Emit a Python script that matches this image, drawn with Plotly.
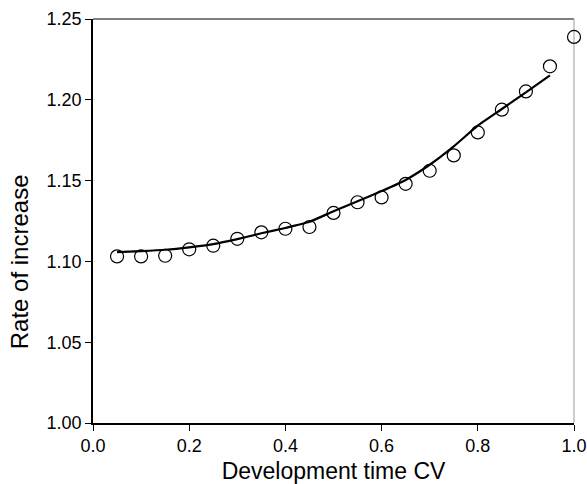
import plotly.graph_objects as go

cv = [0.05, 0.10, 0.15, 0.20, 0.25, 0.30, 0.35, 0.40, 0.45, 0.50,
      0.55, 0.60, 0.65, 0.70, 0.75, 0.80, 0.85, 0.90, 0.95, 1.00]
observed = [1.1031, 1.1031, 1.1035, 1.1075, 1.1097, 1.1140, 1.1180, 1.1202, 1.1213, 1.1300,
            1.1366, 1.1396, 1.1480, 1.1561, 1.1656, 1.1798, 1.1939, 1.2052, 1.2207, 1.2389]

cv_fit = [0.05, 0.10, 0.15, 0.20, 0.25, 0.30, 0.35, 0.40, 0.45, 0.50,
          0.55, 0.60, 0.65, 0.70, 0.75, 0.80, 0.85, 0.90, 0.95]
fitted = [1.1058, 1.1064, 1.1072, 1.1087, 1.1107, 1.1138, 1.1174, 1.1207, 1.1245, 1.1310,
          1.1372, 1.1435, 1.1504, 1.1598, 1.1712, 1.1840, 1.1943, 1.2046, 1.2151]

x_ticks = [0.0, 0.2, 0.4, 0.6, 0.8, 1.0]
x_labels = ["0.0", "0.2", "0.4", "0.6", "0.8", "1.0"]
y_ticks = [1.00, 1.05, 1.10, 1.15, 1.20, 1.25]
y_labels = ["1.00", "1.05", "1.10", "1.15", "1.20", "1.25"]

FONT = "Liberation Sans, Arial, Helvetica, sans-serif"

fig = go.Figure()
fig.add_trace(go.Scatter(
    x=cv_fit, y=fitted, mode="lines",
    line=dict(color="black", width=2.2, shape="spline", smoothing=0.5),
    hoverinfo="skip", showlegend=False, cliponaxis=False))
fig.add_trace(go.Scatter(
    x=cv, y=observed, mode="markers",
    marker=dict(symbol="circle-open", size=13, color="black", line=dict(width=1.2, color="black")),
    hoverinfo="skip", showlegend=False, cliponaxis=False))

# frame: top and right borders
fig.add_shape(type="line", xref="paper", yref="paper", x0=0, x1=1, y0=1, y1=1,
              line=dict(color="#555555", width=1.5), layer="below")
fig.add_shape(type="line", xref="paper", yref="paper", x0=1, x1=1, y0=0, y1=1,
              line=dict(color="#9a9a9a", width=1), layer="below")

fig.add_annotation(text="Rate of increase", xref="paper", yref="paper",
                   x=-0.152, y=0.40, textangle=-90, showarrow=False,
                   xanchor="center", yanchor="middle",
                   font=dict(family=FONT, size=24, color="black"))

fig.update_layout(
    width=587, height=484,
    margin=dict(l=93, r=13, t=19, b=61),
    paper_bgcolor="white", plot_bgcolor="white",
    font=dict(family=FONT, color="black"),
    xaxis=dict(range=[0, 1], tickvals=x_ticks, ticktext=x_labels, automargin=False,
               showgrid=False, zeroline=False, showline=True, linecolor="black", linewidth=1.5,
               ticks="outside", ticklen=6, tickwidth=1.2, tickcolor="black",
               tickfont=dict(family=FONT, size=18, color="black"),
               title=dict(text="Development time CV", font=dict(family=FONT, size=23, color="black"),
                          standoff=14)),
    yaxis=dict(range=[1.0, 1.25], tickvals=y_ticks, ticktext=y_labels, automargin=False,
               showgrid=False, zeroline=False, showline=True, linecolor="black", linewidth=1.5,
               ticks="outside", ticklen=6, tickwidth=1.2, tickcolor="black",
               tickfont=dict(family=FONT, size=18, color="black")),
)

fig.write_html("out.html")
